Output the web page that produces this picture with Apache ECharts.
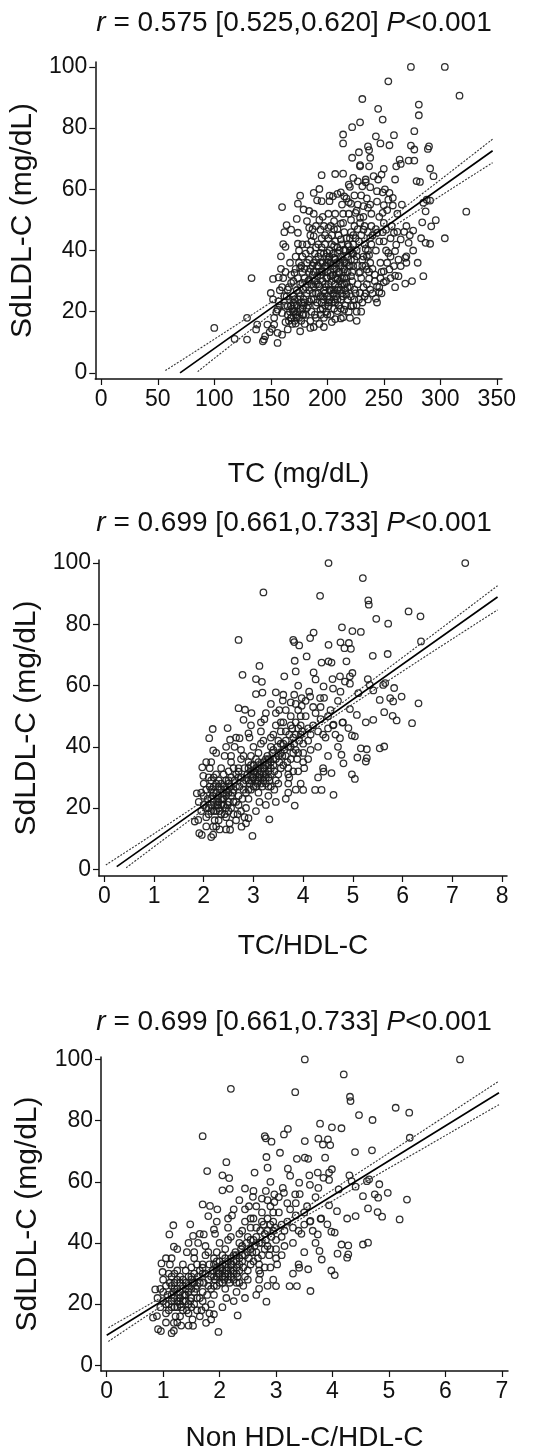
<!DOCTYPE html>
<html lang="en">
<head>
<meta charset="UTF-8">
<title>SdLDL-C correlations</title>
<script src="https://cdn.jsdelivr.net/npm/echarts@6.0.0/dist/echarts.min.js"></script>
<style>
    html, body { margin: 0; padding: 0; background: #fff; }
    #main { width: 544px; height: 1453px; }
</style>
</head>
<body>
<div id="main"></div>
<script>
// tick labels
var tcTicks = [0, 50, 100, 150, 200, 250, 300, 350];
var tcHdlTicks = [0, 1, 2, 3, 4, 5, 6, 7, 8];
var nonHdlTicks = [0, 1, 2, 3, 4, 5, 6, 7];
var sdTicks = [0, 20, 40, 60, 80, 100];

var titles = [
    '{i|r} = 0.575 [0.525,0.620] {i|P}<0.001',
    '{i|r} = 0.699 [0.661,0.733] {i|P}<0.001',
    '{i|r} = 0.699 [0.661,0.733] {i|P}<0.001'
];
var xNames = ['TC (mg/dL)', 'TC/HDL-C', 'Non HDL-C/HDL-C'];
var yName = 'SdLDL-C (mg/dL)';

// panel 1: TC vs SdLDL-C
var tcPoints = [
    [274,100],[304,100],[254,95.3],[317,90.6],[231,89.5],[281,87.7],[281,84.2],[245,86.3],[249,82.8],[229,81.9],
    [222,80.3],[277,79],[259,77.7],[214,77.9],[214,75],[243,77.3],[236,74],[237,72.8],[247,75],[255,74.4],
    [274,74.3],[277,73],[290,74],[289,73.2],[228,72.1],[222,70.3],[264,69.7],[272,69.4],[277,69.4],[238,70.3],
    [265,68.3],[261,67.5],[229,67.9],[229,67.5],[237,67.5],[291,66.8],[294,64.3],[195,64.6],[207,65],[214,65.1],
    [250,66.7],[260,63.2],[279,62.7],[282,62.4],[285,55.6],[288,56.6],[291,56.3],[287,52.8],[323,52.7],[296,49.9],
    [284,49.2],[292,47.9],[276,46.5],[268,46.1],[262,46.1],[304,44],[287,42.5],[291,42.2],[272,42.5],[261,41.9],
    [270,38.1],[270,36],[269,37.6],[285,31.6],[275,30],[269,29.2],[263,31.6],[250,29.6],[243,24.3],[246,26.4],
    [237,30.8],[226,22.1],[212,17.8],[204,16.6],[207,17.6],[214,18.2],[156,9.8],[144,10.9],[143,10.3],[145,12],
    [129,10.9],[118,11.1],[100,14.7],[129,18],[133,31],[137,14.2],[138,15.8],[147,15.8],[149,13.3],[151,14.4],
    [153,15.8],[150,26.1],[152,30.7],[157,31.2],[159,34],[159,38.1],[161,42.1],[163,41.2],[164,48.3],[162,46],
    [160,54.2],[168,46.8],[174,45.8],[174,42.2],[173,50.3],[174,55.3],[176,57.9],[179,53.4],[182,49.6],[184,47.4],
    [184,52.9],[188,58.8],[191,56.4],[193,60.1],[195,56.1],[202,57.9],[202,56.1],[205,57.7],[209,58.5],[212,59],
    [215,57.7],[219,55.8],[221,55.3],[219,61.5],[220,60.8],[223,63.7],[227,62.6],[231,61],[234,62.3],[234,63.2],
    [238,60.7],[241,64.3],[245,63.2],[248,64.8],[244,59.4],[249,59],[255,58.8],[258,57.2],[250,54.8],[253,53.2],
    [249,52.3],[254,56.6],[258,54.7],[235,57],[232,54.5],[239,52],[225,52.3],[229,50.7],[214,52],[206,49.6],
    [212,48.8],[201,47.4],[194,46.8],[188,44.7],[187,47],[232,46.8],[238,44.1],[234,40.5],[244,45.8],[252,46.8],
    [259,45.8],[250,43],[254,39.2],[260,39.8],[265,43.6],[247,36],[253,36],[259,34.9],[265,34.9],[260,31.8],
    [237,38.5],[231,37],[228,32.7],[235,33.8],[242,32.1],[221,31.6],[224,27.2],[229,26.1],[217,25.6],[212,24],
    [206,24],[201,21.8],[194,20.7],[190,18],[185,14.7],[176,13.6],[172,16.1],[168,18],[163,16.6],[165,14.2],
    [160,12.5],[156,13.1],[160,19.6],[165,21.8],[171,20.2],[179,19.1],[182,21.2],[171,24],[175,26.1],[179,27.2],
    [178,29.4],[184,30.5],[188,28.3],[191,31.6],[195,33.2],[198,34.9],[203,35.9],[206,37.6],[209,39.2],[215,40.3],
    [219,41.4],[222,39.2],[212,43.6],[206,41.4],[200,39.2],[194,39.2],[190,37],[182,36],[176,34.3],[171,32.7],
    [168,29.4],[165,27.2],[162,25.1],[157,23.4],[156,20.7],[203,31.6],[209,30.5],[215,33.8],[217,36],[223,34.9],
    [226,38.1],[212,27.2],[206,27.2],[198,26.1],[194,25.1],[188,24],[184,23.4],[217,29.4],[224,24],[221,21.8],
    [215,20.7],[209,20.2],[200,19.1],[197,24],[193,28.3],[206,33.8],[238,27.2],[244,28.3],[247,31],[250,33.2],
    [255,33.8],
    [165,19],[168,18],[170,20],[172,19],[175,18],[168,22],[173,22],[178,21],[180,23],[176,25],
    [182,26],[186,24],[190,22],[192,26],[195,23],[198,22],[200,25],[202,27],[204,23],[206,21],
    [208,25],[210,28],[199,28],[196,30],[193,33],[190,29],[187,32],[185,34],[183,30],[180,31],
    [178,33],[188,36],[192,38],[196,36],[200,33],[203,36],[205,32],[208,34],[211,36],[213,31],
    [216,27],[218,24],[220,28],[222,30],[225,26],[227,29],[230,31],[232,28],[234,26],[236,24],
    [212,38],[215,36],[218,38],[220,40],[223,42],[226,40],[228,43],[230,45],[233,42],[235,38],
    [238,36],[240,34],[242,30],[246,28],[248,33],[202,40],[198,42],[195,44],[190,41],[185,40],
    [182,42],[178,38],[175,36],[172,34],[168,32],[166,28],[164,25],[162,22],[158,22],[155,20],
    [153,18],[152,24],[158,27],[161,31],[197,18],[193,16],[188,15],[185,17],[180,16],[207,29],
    [209,31],[214,33],[217,44],[221,46],[224,48],[210,45],[206,47],[201,44],[197,48],[193,50],
    [188,52],[214,49],[219,52],[227,55],[239,48],[243,40],[246,43],[252,40],[256,44],[250,49],
    [231,35],[237,33],[204,42],[199,38],
    [166,17],[169,21],[171,17],[174,20],[177,17],[179,22],[181,19],[183,22],[186,20],[189,19],
    [191,23],[194,19],[196,21],[199,20],[201,23],[203,19],[205,26],[207,23],[210,22],[212,21],
    [214,25],[216,22],[219,20],[221,25],[223,22],[226,20],[228,24],[231,23],[233,25],[235,29],
    [170,25],[173,27],[176,29],[179,24],[181,28],[184,27],[187,26],[189,30],[192,29],[194,32],
    [197,27],[199,31],[201,29],[203,33],[205,35],[207,31],[209,27],[211,33],[213,29],[215,31],
    [218,33],[220,35],[222,33],[224,37],[227,35],[229,33],[232,38],[234,35],[236,40],[239,42],
    [172,38],[175,40],[178,42],[181,39],[184,37],[186,43],[189,39],[192,42],[195,41],[197,39],
    [200,36],[202,38],[204,45],[207,43],[209,41],[211,40],[213,42],[216,40],[218,42],[220,44],
    [223,45],[225,44],[227,47],[229,49],[233,48],[236,46],[240,45],[243,47],[246,51],[249,46],
    [185,45],[190,48],[196,51],[201,52],[207,52],[213,55],[217,57],[224,58],[230,58],[236,54],
    [160,28],[163,33],[167,36],[170,30],[174,31],[177,35],[180,34],[184,33],[187,35],[191,35],
    [198,45],[203,48],[209,47],[215,46],[221,50],[226,53],[232,51],[238,55],[244,56],[251,60],
    [257,48],[262,52],[266,55],[270,48],[273,45],[276,40],[280,36],[283,44],[256,38],[263,37],
    [240,26],[244,23],[248,26],[252,30],[256,31],[260,28],[230,20],[226,17],[220,18],[197,15],
    [167,20],[169,16],[171,22],[173,18],[176,21],[178,19],[174,24],[170,23],[177,23],[167,24],
    [196,25],[198,29],[200,31],[202,24],[204,30],[206,26],[208,36],[210,33],[212,35],[214,37],
    [196,33],[199,35],[201,37],[203,27],[205,39],[207,37],[209,24],[211,30],[213,26],[215,29],
    [217,31],[219,35],[221,37],[223,39],[218,28],[186,29],[188,33],[190,26],[192,35],[194,36]
];
var tcFit = [[69.7, 0], [346.3, 72.6]];
var tcFitUpper = [[56.7, 0.75], [130, 18.2], [210, 37.8], [280, 57.4], [346.3, 76.4]];
var tcFitLower = [[85.3, 0.4], [130, 13.4], [210, 35.8], [280, 53.0], [346.3, 68.7]];

// panel 2: TC/HDL-C vs SdLDL-C
var tcHdlPoints = [
    [4.51,100],[7.26,100],[5.20,95.1],[3.20,90.4],[4.34,89.3],[5.31,87.8],[5.32,86.4],[6.12,84.2],[6.36,82.6],[5.47,81.8],
    [5.71,80.2],[4.78,79],[4.21,77.3],[5.16,77.5],[4.99,77.8],[2.70,74.9],[3.80,74.9],[3.82,74.2],[3.92,73.1],[4.14,75.5],
    [4.51,73.3],[4.75,74.1],[4.92,73.9],[4.83,72.2],[4.96,72],[6.37,74.4],[5.40,69.7],[5.70,70.3],[4.37,67.5],[4.51,67.9],
    [4.57,67.5],[4.07,69.5],[3.83,68.1],[4.87,67.9],[3.12,66.4],[4.21,64.3],[3.85,64.6],[3.62,63],[2.78,63.5],[3.05,62.1],
    [3.17,61.2],[3.05,57.2],[3.18,57.7],[3.45,57.8],[2.70,52.6],[2.83,52.1],[2.80,48.8],[2.96,51],[3.59,55.1],[3.75,54.5],
    [3.97,55.9],[3.97,53.4],[4.14,56.4],[4.34,55.9],[4.41,59.7],[4.59,62.1],[4.74,63],[4.84,61.3],[4.94,60.6],[4.99,64.1],
    [4.94,63],[5.11,57.5],[5.30,62.1],[5.34,60.2],[5.41,58.4],[5.54,55.3],[5.61,60.2],[5.65,60.8],[5.75,55.9],[5.81,54.8],
    [5.83,59.2],[5.98,56.4],[6.32,54.2],[5.88,48.6],[5.80,50.1],[6.19,47.7],[5.63,51.3],[5.41,48.8],[5.26,48],[5.08,50.4],
    [4.94,52.3],[4.91,46.1],[5.04,43.4],[4.98,43.7],[5.16,39.5],[5.28,39.2],[5.28,36.3],[5.26,35.2],[5.09,36.5],[5.54,39.5],
    [5.63,40.1],[4.74,42.8],[4.79,47.9],[4.61,47.2],[4.77,37.4],[4.81,34.6],[4.98,31],[5.04,29.5],[4.57,31.4],[4.41,31.9],
    [4.61,24.3],[4.24,25.9],[4.37,25.9],[4.00,25.9],[3.83,20.8],[3.32,16.3],[2.98,10.9],[2.15,10.5],[2.19,11.3],[1.91,11.8],
    [1.96,11.2],[1.82,15.6],[1.89,16.1],[1.86,24.8],[1.99,30.5],[1.97,33.3],[2.11,42.8],[2.18,45.8],[2.19,38.8],[2.48,46.1],
    [2.53,42.3],[2.72,42.8],[2.70,31.9],[2.90,44.4],[2.19,13.9],[2.53,12.9],[2.76,13.9],[2.90,16.7],
    [1.9,22],[2.0,24],[2.05,20],[2.1,18],[2.15,26],[2.2,22],[2.25,19],[2.3,24],[2.35,28],[2.4,21],
    [2.45,17],[2.5,25],[2.55,30],[2.6,22],[2.65,27],[2.7,33],[2.75,19],[2.8,26],[2.85,29],[2.9,35],
    [2.95,31],[3.0,27],[3.05,33],[3.1,38],[3.15,30],[3.2,35],[3.25,28],[3.3,32],[3.35,40],[3.4,36],
    [3.45,29],[3.5,42],[3.55,38],[3.6,34],[3.65,45],[3.7,40],[3.75,36],[3.8,43],[3.85,48],[3.9,38],
    [3.95,44],[4.0,41],[4.05,50],[4.1,46],[4.15,39],[4.2,53],[4.3,45],[4.35,49],[4.45,43],[4.5,50],
    [4.6,47],[4.7,55],[2.0,28],[2.2,30],[2.3,16],[2.4,27],[2.5,32],[2.6,18],[2.7,24],[2.8,37],
    [2.9,23],[3.0,40],[3.1,25],[3.2,42],[3.3,24],[3.4,44],[3.5,31],[3.6,48],[3.7,28],[3.8,32],
    [3.9,52],[4.0,35],[2.25,31],[2.55,35],[2.85,20],[3.15,45],[3.45,47],[3.75,50],[2.05,26],[2.35,23],
    [2.65,31],[2.95,26],[3.25,36],[3.55,33],[3.85,39],[4.15,44],[1.95,19],[2.15,21],[2.45,29],[2.75,36],
    [3.05,29],[3.35,31],[3.65,37],[3.95,47],[2.12,33],[2.42,37],[2.62,40],[2.92,43],[3.22,49],[3.52,52],
    [3.82,57],[4.12,58],[4.42,56],[3.12,22],[3.42,26],[3.72,30],[4.02,33],[2.82,17],[2.52,15],[2.32,13],
    [3.35,54],[3.6,57],[3.9,60],[3.25,51],[4.25,62],[4.6,59],[4.75,58],[4.8,48],[4.7,40],[4.5,37],
    [4.4,33],[4.3,30],[3.95,28],[3.7,25],
    [1.95,25],[2.0,21],[2.05,17],[2.08,23],[2.12,27],[2.15,19],[2.18,24],[2.22,16],[2.25,25],[2.28,21],
    [2.32,19],[2.35,26],[2.38,23],[2.42,18],[2.45,24],[2.48,21],[2.52,27],[2.55,20],[2.58,25],[2.62,29],
    [2.65,22],[2.68,18],[2.72,27],[2.75,30],[2.78,23],[2.82,33],[2.85,25],[2.88,31],[2.92,28],[2.95,34],
    [2.98,30],[3.02,32],[3.05,36],[3.08,28],[3.12,31],[3.15,34],[3.18,27],[3.22,33],[3.25,31],[3.28,37],
    [3.32,29],[3.35,35],[3.38,38],[3.42,32],[3.45,36],[3.48,40],[3.52,35],[3.55,41],[3.58,37],[3.62,39],
    [3.65,42],[3.68,35],[3.72,44],[3.75,40],[3.78,46],[3.82,41],[3.85,44],[3.88,36],[3.92,42],[3.98,45],
    [2.1,30],[2.2,27],[2.3,29],[2.4,31],[2.5,28],[2.6,33],[2.7,30],[2.8,28],[2.9,33],[3.0,30],
    [3.1,33],[3.2,31],[3.3,34],[3.4,39],[3.5,37],[3.6,41],[3.7,33],[3.8,38],[3.9,46],[4.0,38],
    [2.15,35],[2.35,33],[2.55,37],[2.75,39],[2.95,37],[3.15,41],[3.35,43],[3.55,45],[3.75,47],[3.95,50],
    [2.3,20],[2.5,19],[2.7,21],[2.9,26],[3.1,29],[3.3,27],[3.5,28],[3.7,31],[3.9,32],[4.1,36],
    [2.05,14],[2.25,14],[2.45,13],[2.65,16],[2.85,15],[3.05,19],[3.25,21],[3.45,22],[3.65,23],[3.85,26],
    [4.1,42],[4.2,47],[4.3,40],[4.4,44],[4.5,46],[4.25,51],[4.35,53],[4.55,52],[4.65,44],[4.05,55],
    [3.45,51],[3.65,52],[3.85,54],[3.55,48],[3.15,48],[2.95,47],[2.65,43],[2.45,40],[2.25,38],[2.05,35],
    [2.1,20],[2.15,23],[2.2,25],[2.25,21],[2.3,27],[2.35,18],[2.4,23],[2.45,26],[2.5,22],[2.55,24],
    [2.2,19],[2.3,22],[2.4,25],[2.5,29],[2.6,26],[2.25,28],[2.35,21],[2.45,20],[2.55,27],[2.15,29],
    [2.9,29],[2.95,32],[3.0,34],[3.05,31],[3.1,35],[3.15,28],[3.2,33],[3.25,34],[3.3,30],[3.35,27],
    [2.95,29],[3.05,27],[3.15,32],[3.25,30],[3.35,33],[3.0,32],[3.1,30],[3.2,29],[3.3,36],[3.4,34]
];
var tcHdlFit = [[0.25, 0.85], [7.91, 88.9]];
var tcHdlFitUpper = [[0.03, 1.4], [1.5, 17.0], [3.4, 37.9], [5.5, 63.1], [7.91, 92.6]];
var tcHdlFitLower = [[0.44, 0.5], [1.5, 13.4], [3.4, 36.2], [5.5, 59.3], [7.91, 84.7]];

// panel 3: Non HDL-C/HDL-C vs SdLDL-C
var nonHdlPoints = [
    [3.51,100],[6.26,100],[4.20,95.1],[2.20,90.4],[3.34,89.3],[4.31,87.8],[4.32,86.4],[5.12,84.2],[5.36,82.6],[4.47,81.8],
    [4.71,80.2],[3.78,79],[3.21,77.3],[4.16,77.5],[3.99,77.8],[1.70,74.9],[2.80,74.9],[2.82,74.2],[2.92,73.1],[3.14,75.5],
    [3.51,73.3],[3.75,74.1],[3.92,73.9],[3.83,72.2],[3.96,72],[5.37,74.4],[4.40,69.7],[4.70,70.3],[3.37,67.5],[3.51,67.9],
    [3.57,67.5],[3.07,69.5],[2.83,68.1],[3.87,67.9],[2.12,66.4],[3.21,64.3],[2.85,64.6],[2.62,63],[1.78,63.5],[2.05,62.1],
    [2.17,61.2],[2.05,57.2],[2.18,57.7],[2.45,57.8],[1.70,52.6],[1.83,52.1],[1.80,48.8],[1.96,51],[2.59,55.1],[2.75,54.5],
    [2.97,55.9],[2.97,53.4],[3.14,56.4],[3.34,55.9],[3.41,59.7],[3.59,62.1],[3.74,63],[3.84,61.3],[3.94,60.6],[3.99,64.1],
    [3.94,63],[4.11,57.5],[4.30,62.1],[4.34,60.2],[4.41,58.4],[4.54,55.3],[4.61,60.2],[4.65,60.8],[4.75,55.9],[4.81,54.8],
    [4.83,59.2],[4.98,56.4],[5.32,54.2],[4.88,48.6],[4.80,50.1],[5.19,47.7],[4.63,51.3],[4.41,48.8],[4.26,48],[4.08,50.4],
    [3.94,52.3],[3.91,46.1],[4.04,43.4],[3.98,43.7],[4.16,39.5],[4.28,39.2],[4.28,36.3],[4.26,35.2],[4.09,36.5],[4.54,39.5],
    [4.63,40.1],[3.74,42.8],[3.79,47.9],[3.61,47.2],[3.77,37.4],[3.81,34.6],[3.98,31],[4.04,29.5],[3.57,31.4],[3.41,31.9],
    [3.61,24.3],[3.24,25.9],[3.37,25.9],[3.00,25.9],[2.83,20.8],[2.32,16.3],[1.98,10.9],[1.15,10.5],[1.19,11.3],[0.91,11.8],
    [0.96,11.2],[0.82,15.6],[0.89,16.1],[0.86,24.8],[0.99,30.5],[0.97,33.3],[1.11,42.8],[1.18,45.8],[1.19,38.8],[1.48,46.1],
    [1.53,42.3],[1.72,42.8],[1.70,31.9],[1.90,44.4],[1.19,13.9],[1.53,12.9],[1.76,13.9],[1.90,16.7],
    [0.9,22],[1.0,24],[1.05,20],[1.1,18],[1.15,26],[1.2,22],[1.25,19],[1.3,24],[1.35,28],[1.4,21],
    [1.45,17],[1.5,25],[1.55,30],[1.6,22],[1.65,27],[1.7,33],[1.75,19],[1.8,26],[1.85,29],[1.9,35],
    [1.95,31],[2.0,27],[2.05,33],[2.1,38],[2.15,30],[2.2,35],[2.25,28],[2.3,32],[2.35,40],[2.4,36],
    [2.45,29],[2.5,42],[2.55,38],[2.6,34],[2.65,45],[2.7,40],[2.75,36],[2.8,43],[2.85,48],[2.9,38],
    [2.95,44],[3.0,41],[3.05,50],[3.1,46],[3.15,39],[3.2,53],[3.3,45],[3.35,49],[3.45,43],[3.5,50],
    [3.6,47],[3.7,55],[1.0,28],[1.2,30],[1.3,16],[1.4,27],[1.5,32],[1.6,18],[1.7,24],[1.8,37],
    [1.9,23],[2.0,40],[2.1,25],[2.2,42],[2.3,24],[2.4,44],[2.5,31],[2.6,48],[2.7,28],[2.8,32],
    [2.9,52],[3.0,35],[1.25,31],[1.55,35],[1.85,20],[2.15,45],[2.45,47],[2.75,50],[1.05,26],[1.35,23],
    [1.65,31],[1.95,26],[2.25,36],[2.55,33],[2.85,39],[3.15,44],[0.95,19],[1.15,21],[1.45,29],[1.75,36],
    [2.05,29],[2.35,31],[2.65,37],[2.95,47],[1.12,33],[1.42,37],[1.62,40],[1.92,43],[2.22,49],[2.52,52],
    [2.82,57],[3.12,58],[3.42,56],[2.12,22],[2.42,26],[2.72,30],[3.02,33],[1.82,17],[1.52,15],[1.32,13],
    [2.35,54],[2.6,57],[2.9,60],[2.25,51],[3.25,62],[3.6,59],[3.75,58],[3.8,48],[3.7,40],[3.5,37],
    [3.4,33],[3.3,30],[2.95,28],[2.7,25],
    [0.95,25],[1.0,21],[1.05,17],[1.08,23],[1.12,27],[1.15,19],[1.18,24],[1.22,16],[1.25,25],[1.28,21],
    [1.32,19],[1.35,26],[1.38,23],[1.42,18],[1.45,24],[1.48,21],[1.52,27],[1.55,20],[1.58,25],[1.62,29],
    [1.65,22],[1.68,18],[1.72,27],[1.75,30],[1.78,23],[1.82,33],[1.85,25],[1.88,31],[1.92,28],[1.95,34],
    [1.98,30],[2.02,32],[2.05,36],[2.08,28],[2.12,31],[2.15,34],[2.18,27],[2.22,33],[2.25,31],[2.28,37],
    [2.32,29],[2.35,35],[2.38,38],[2.42,32],[2.45,36],[2.48,40],[2.52,35],[2.55,41],[2.58,37],[2.62,39],
    [2.65,42],[2.68,35],[2.72,44],[2.75,40],[2.78,46],[2.82,41],[2.85,44],[2.88,36],[2.92,42],[2.98,45],
    [1.1,30],[1.2,27],[1.3,29],[1.4,31],[1.5,28],[1.6,33],[1.7,30],[1.8,28],[1.9,33],[2.0,30],
    [2.1,33],[2.2,31],[2.3,34],[2.4,39],[2.5,37],[2.6,41],[2.7,33],[2.8,38],[2.9,46],[3.0,38],
    [1.15,35],[1.35,33],[1.55,37],[1.75,39],[1.95,37],[2.15,41],[2.35,43],[2.55,45],[2.75,47],[2.95,50],
    [1.3,20],[1.5,19],[1.7,21],[1.9,26],[2.1,29],[2.3,27],[2.5,28],[2.7,31],[2.9,32],[3.1,36],
    [1.05,14],[1.25,14],[1.45,13],[1.65,16],[1.85,15],[2.05,19],[2.25,21],[2.45,22],[2.65,23],[2.85,26],
    [3.1,42],[3.2,47],[3.3,40],[3.4,44],[3.5,46],[3.25,51],[3.35,53],[3.55,52],[3.65,44],[3.05,55],
    [2.45,51],[2.65,52],[2.85,54],[2.55,48],[2.15,48],[1.95,47],[1.65,43],[1.45,40],[1.25,38],[1.05,35],
    [1.1,20],[1.15,23],[1.2,25],[1.25,21],[1.3,27],[1.35,18],[1.4,23],[1.45,26],[1.5,22],[1.55,24],
    [1.2,19],[1.3,22],[1.4,25],[1.5,29],[1.6,26],[1.25,28],[1.35,21],[1.45,20],[1.55,27],[1.15,29],
    [1.9,29],[1.95,32],[2.0,34],[2.05,31],[2.1,35],[2.15,28],[2.2,33],[2.25,34],[2.3,30],[2.35,27],
    [1.95,29],[2.05,27],[2.15,32],[2.25,30],[2.35,33],[2.0,32],[2.1,30],[2.2,29],[2.3,36],[2.4,34]
];
var nonHdlFit = [[0, 9.8], [6.95, 89.1]];
var nonHdlFitUpper = [[0.03, 12.3], [1.0, 22.6], [2.4, 38.0], [4.5, 63.4], [6.95, 92.9]];
var nonHdlFitLower = [[0.03, 7.8], [1.0, 19.7], [2.4, 36.4], [4.5, 59.1], [6.95, 85.2]];

var FONT = '"Liberation Sans", Arial, sans-serif';
var INK = '#111';

// grid pixel boxes and axis extents, one per panel
var panels = [
    {left: 94, top: 62, width: 408, height: 317, xMin: -5.3, xMax: 354.6, yMin: -2, yMax: 101.6,
        xTicks: tcTicks, xGap: 81, yGap: 54, titleY: 23},
    {left: 99, top: 560, width: 408, height: 316, xMin: -0.107, xMax: 8.1, yMin: -2.2, yMax: 101,
        xTicks: tcHdlTicks, xGap: 56, yGap: 56, titleY: 523},
    {left: 101, top: 1057, width: 407, height: 314, xMin: -0.101, xMax: 7.11, yMin: -1.86, yMax: 100.8,
        xTicks: nonHdlTicks, xGap: 53, yGap: 58, titleY: 1022}
];
var pointSets = [tcPoints, tcHdlPoints, nonHdlPoints];
var fits = [[tcFit, tcFitUpper, tcFitLower], [tcHdlFit, tcHdlFitUpper, tcHdlFitLower], [nonHdlFit, nonHdlFitUpper, nonHdlFitLower]];

var grids = [], xAxes = [], yAxes = [], series = [], graphics = [];

panels.forEach(function (p, i) {
    grids.push({left: p.left, top: p.top, width: p.width, height: p.height, containLabel: false});
    xAxes.push({
        type: 'value', gridIndex: i, min: p.xMin, max: p.xMax,
        name: xNames[i], nameLocation: 'middle', nameGap: p.xGap,
        nameTextStyle: {fontSize: 28, color: INK, fontFamily: FONT},
        axisLine: {onZero: false, lineStyle: {color: INK, width: 1.5}},
        axisTick: {customValues: p.xTicks, length: 6, lineStyle: {color: INK, width: 1.2}},
        axisLabel: {customValues: p.xTicks, fontSize: 23, color: INK, fontFamily: FONT, margin: 9},
        splitLine: {show: false}
    });
    yAxes.push({
        type: 'value', gridIndex: i, min: p.yMin, max: p.yMax,
        name: yName, nameLocation: 'middle', nameGap: p.yGap, nameRotate: 90,
        nameTextStyle: {fontSize: 30, color: INK, fontFamily: FONT},
        axisLine: {onZero: false, lineStyle: {color: INK, width: 1.5}},
        axisTick: {customValues: sdTicks, length: 6, lineStyle: {color: INK, width: 1.2}},
        axisLabel: {customValues: sdTicks, fontSize: 23, color: INK, fontFamily: FONT, margin: 8},
        splitLine: {show: false}
    });
    series.push({
        type: 'scatter', xAxisIndex: i, yAxisIndex: i, data: pointSets[i],
        symbol: 'circle', symbolSize: 6.5, silent: true,
        itemStyle: {color: 'rgba(0,0,0,0)', borderColor: '#1a1a1a', borderWidth: 1.3, opacity: 0.9}
    });
    series.push({
        type: 'line', xAxisIndex: i, yAxisIndex: i, data: fits[i][0], symbol: 'none', silent: true, z: 5,
        lineStyle: {color: '#000', width: 1.7}
    });
    [1, 2].forEach(function (k) {
        series.push({
            type: 'line', xAxisIndex: i, yAxisIndex: i, data: fits[i][k], symbol: 'none', silent: true, z: 5,
            smooth: true,
            lineStyle: {color: '#333', width: 1.1, type: [2, 1.5]}
        });
    });
    graphics.push({
        type: 'text', x: 294, y: p.titleY,
        style: {
            text: titles[i], fill: INK, fontSize: 28, fontFamily: FONT,
            align: 'center', verticalAlign: 'middle',
            rich: {i: {fontStyle: 'italic', fontSize: 28, fontFamily: FONT, fill: INK}}
        }
    });
});

var chart = echarts.init(document.getElementById('main'), null, {renderer: 'canvas'});
chart.setOption({
    backgroundColor: '#fff',
    animation: false,
    grid: grids,
    xAxis: xAxes,
    yAxis: yAxes,
    series: series,
    graphic: graphics
});
</script>
</body>
</html>
